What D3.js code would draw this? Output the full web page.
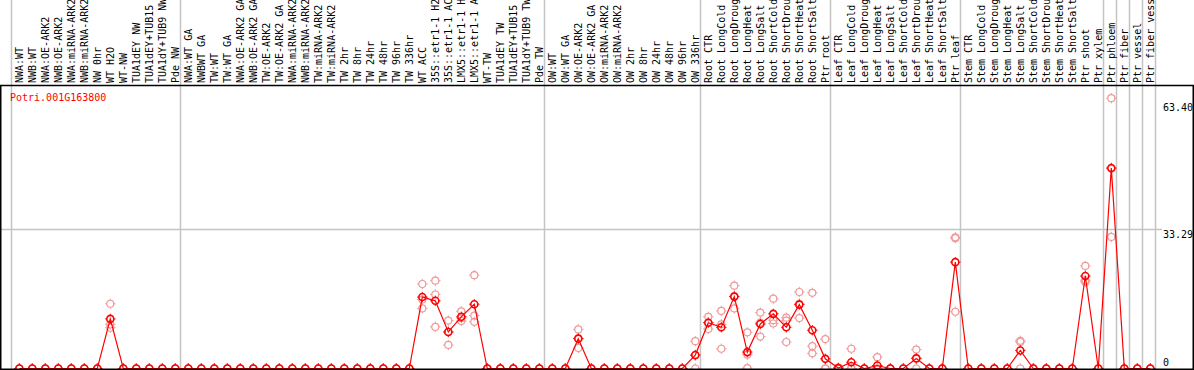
<!DOCTYPE html>
<html><head><meta charset="utf-8">
<script src="https://cdn.jsdelivr.net/npm/d3@7"></script>
<style>
html,body{margin:0;padding:0;background:#fff;}
svg{display:block;}
text{font-family:"DejaVu Sans Mono","Liberation Mono",monospace;font-size:10px;}
</style></head>
<body>
<svg id="chart" width="1194" height="370"></svg>
<script>
const geneName = "Potri.001G163800";
const categories = [
 "NWA:WT","NWB:WT","NWA:OE-ARK2","NWB:OE-ARK2","NWA:miRNA-ARK2","NWB:miRNA-ARK2","NW 0hr","WT H2O","WT-NW","TUA1dEY NW","TUA1dEY+TUB15","TUA1dY+TUB9 NW","Pde NW",
 "NWA:WT GA","NWBWT GA","TW:WT","TW:WT GA","NWA:OE-ARK2 GA","NWB:OE-ARK2 GA","TW:OE-ARK2","TW:OE-ARK2 GA","NWA:miRNA-ARK2","NWB:miRNA-ARK2","TW:miRNA-ARK2","TW:miRNA-ARK2","TW 2hr","TW 8hr","TW 24hr","TW 48hr","TW 96hr","TW 336hr","WT ACC","35S::etr1-1 H2","35S::etr1-1 AC","LMX5::etr1-1 H","LMX5::etr1-1 A","WT-TW","TUA1dEY TW","TUA1dEY+TUB15","TUA1dY+TUB9 TW","Pde TW",
 "OW:WT","OW:WT GA","OW:OE-ARK2","OW:OE-ARK2 GA","OW:miRNA-ARK2","OW:miRNA-ARK2","OW 2hr","OW 8hr","OW 24hr","OW 48hr","OW 96hr","OW 336hr",
 "Root CTR","Root LongCold","Root LongDroug","Root LongHeat","Root LongSalt","Root ShortCold","Root ShortDrou","Root ShortHeat","Root ShortSalt","Ptr root",
 "Leaf CTR","Leaf LongCold","Leaf LongDroug","Leaf LongHeat","Leaf LongSalt","Leaf ShortCold","Leaf ShortDrou","Leaf ShortHeat","Leaf ShortSalt","Ptr leaf",
 "Stem CTR","Stem LongCold","Stem LongDroug","Stem LongHeat","Stem LongSalt","Stem ShortCold","Stem ShortDrou","Stem ShortHeat","Stem ShortSalt","Ptr shoot","Ptr xylem",
 "Ptr phloem","Ptr fiber","Ptr vessel","Ptr fiber vess"
];
const groupSizes = [13,28,12,10,10,11,1,1,1,1];
const meanValues = [
 0,0,0,0,0,0,0,11.8,0,0,0,0,0,
 0,0,0,0,0,0,0,0,0,0,0,0,0,0,0,0,0,0,17.0,16.1,8.7,12.3,15.3,0,0,0,0,0,
 0,0,7.1,0,0,0,0,0,0,0,0,3.2,
 10.9,9.8,17.1,3.9,10.6,13.0,9.8,15.2,9.1,2.3,
 0.1,1.5,0,0.7,0,0,2.4,0,0,25.3,
 0,0,0,0,4.3,0,0,0,0,22.0,0,
 47.7,0,0,0
];
const rep1 = [
 0,0,0,0,0,0,0,15.4,0,0,0,0,0,
 0,0,0,0,0,0,0,0,0,0,0,0,0,0,0,0,0,0,20.1,20.9,11.4,13.6,22.2,0,0,0,0,0,
 0,0,9.3,0,0,0,0,0,0,0,0,6.5,
 12.3,13.7,19.7,8.6,13.3,16.6,12.1,18.2,18.0,7.0,
 0.2,4.7,0,2.7,0,0,4.5,0,0,31.2,
 0,0,0,0,6.6,0,0,0,0,24.4,0,
 64.3,0,0,0
];
const rep2 = [
 0,0,0,0,0,0,0,10.5,0,0,0,0,0,
 0,0,0,0,0,0,0,0,0,0,0,0,0,0,0,0,0,0,16.4,17.6,8.7,12.0,12.6,0,0,0,0,0,
 0,0,7.2,0,0,0,0,0,0,0,0,3.1,
 10.9,10.5,17.2,3.3,10.9,11.5,11.4,15.4,5.3,0,
 0.1,0,0,0,0,0,2.5,0,0,31.0,
 0,0,0,0,6.3,0,0,0,0,21.0,0,
 47.5,0,0,0
];
const rep3 = [
 0,0,0,0,0,0,0,9.7,0,0,0,0,0,
 0,0,0,0,0,0,0,0,0,0,0,0,0,0,0,0,0,0,14.3,9.9,5.6,11.3,11.1,0,0,0,0,0,
 0,0,4.9,0,0,0,0,0,0,0,0,0,
 9.4,4.7,14.3,0.1,7.6,10.7,6.3,12.0,3.6,0,
 0,0,0,0,0,0,0,0,0,13.5,
 0,0,0,0,0,0,0,0,0,20.6,0,
 31.3,0,0,0
];
const yTickValues = [0, 33.29, 63.40];
const yTickLabels = ["0", "33.29", "63.40"];

const W = 1194, H = 370;
const svg = d3.select("#chart");
svg.append("rect").attr("width", W).attr("height", H).attr("fill", "#fff");

const x = d3.scaleLinear().domain([0, categories.length]).range([11, 1155]);
const y = d3.scaleLinear().domain([0, 63.40]).range([368.5, 102]);
const px = i => x(i) + 8.3;

// vertical group gridlines
const bounds = [0];
groupSizes.forEach(s => bounds.push(bounds[bounds.length - 1] + s));
svg.append("g").selectAll("line").data(bounds).join("line")
  .attr("x1", d => Math.round(x(d)) + 0.5).attr("x2", d => Math.round(x(d)) + 0.5)
  .attr("y1", 0).attr("y2", 369)
  .attr("stroke", "#c4c4c4").attr("stroke-width", 1.5);

// horizontal gridline for middle tick
svg.append("line")
  .attr("x1", 0).attr("x2", 1162)
  .attr("y1", Math.round(y(yTickValues[1])) + 0.5).attr("y2", Math.round(y(yTickValues[1])) + 0.5)
  .attr("stroke", "#c4c4c4").attr("stroke-width", 1.5);

// column header labels (rotated)
svg.append("g").selectAll("text").data(categories).join("text")
  .attr("transform", (d, i) => `translate(${x(i) + 11.8},83) rotate(-90)`)
  .attr("fill", "#000")
  .text(d => d);

// frame
svg.append("line").attr("x1", 0).attr("x2", W).attr("y1", 85.5).attr("y2", 85.5).attr("stroke", "#000").attr("stroke-width", 1.5);
svg.append("line").attr("x1", 0.75).attr("x2", 0.75).attr("y1", 85).attr("y2", H).attr("stroke", "#000").attr("stroke-width", 1.5);
svg.append("line").attr("x1", 1193.25).attr("x2", 1193.25).attr("y1", 85).attr("y2", H).attr("stroke", "#000").attr("stroke-width", 1.5);

// gene name
svg.append("text").attr("x", 10).attr("y", 101).attr("fill", "#ff0000").text(geneName);

// y tick labels (right)
svg.append("g").selectAll("text").data(yTickValues).join("text")
  .attr("x", 1163).attr("y", (d, i) => i === 0 ? 366 : y(d) + 9)
  .attr("fill", "#000")
  .text((d, i) => yTickLabels[i]);

// marker drawing
function marker(g, cx, cy, color, sw) {
  g.append("circle").attr("cx", cx).attr("cy", cy).attr("r", 3.5)
    .attr("fill", "none").attr("stroke", color).attr("stroke-width", sw);
  const t = 5.2;
  g.append("path")
    .attr("d", `M${cx},${cy-3.5}V${cy-t}M${cx},${cy+3.5}V${cy+t}M${cx-3.5},${cy}H${cx-t}M${cx+3.5},${cy}H${cx+t}`)
    .attr("stroke", color).attr("stroke-width", 1);
}

// replicates
const repG = svg.append("g");
[rep1, rep2, rep3].forEach(arr => {
  arr.forEach((v, i) => marker(repG, px(i), y(v), "#ee9a9a", 1.2));
});

// mean line
const line = d3.line().x((d, i) => px(i)).y(d => y(d));
svg.append("path").datum(meanValues).attr("d", line)
  .attr("fill", "none").attr("stroke", "#ff0000").attr("stroke-width", 1.2);

// means
const mG = svg.append("g");
meanValues.forEach((v, i) => marker(mG, px(i), y(v), "#ff0000", 1.6));

// bottom line
svg.append("line").attr("x1", 0).attr("x2", W).attr("y1", 369.25).attr("y2", 369.25).attr("stroke", "#000").attr("stroke-width", 1.5);
</script>
</body></html>
